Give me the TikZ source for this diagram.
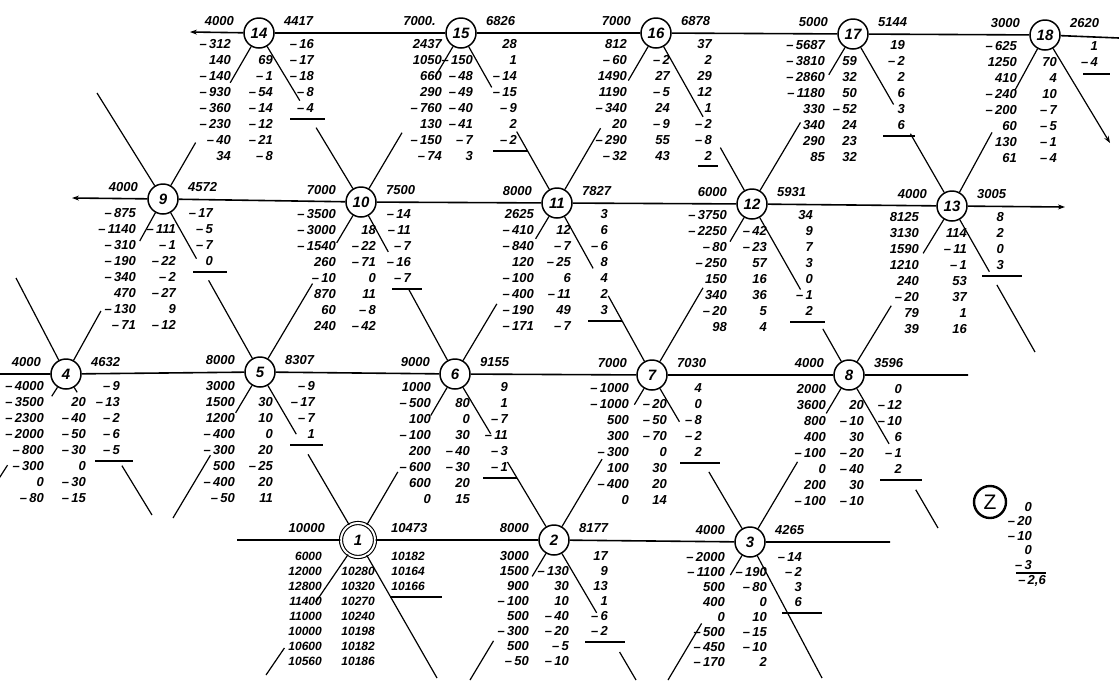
\documentclass[tikz,border=0pt]{standalone}
\usepackage{fontspec}
\setmainfont{Liberation Sans}
\usetikzlibrary{calc,arrows.meta}
\def\fmtnumA#1#2\relax{\ifx-#1\textendash\,#2\else#1#2\fi}
\newcommand\fmtnum[1]{\expandafter\fmtnumA#1\relax}
\newcommand\numcol[6]{%
  \foreach \v [count=\i] in {#6}{%
    \node[#5, anchor=base east] (#1-\i) at (#2,{#3+(\i-1)*#4}) {\fmtnum{\v}};
  }%
}
\newcommand\stn[7]{%
  \node[stat] (#1) at (#2,#3) {#4};
  \node[num, anchor=base east] (#1-ll) at ({#2-#7},{#3-8}) {#5};
  \node[num, anchor=base west] (#1-rl) at ({#2+#7},{#3-8}) {#6};
}
\newcommand\dseg[4]{%
  \draw[diag] (#1) -- ($(#1)!#3!(#2)$);
  \draw[diag] ($(#1)!#4!(#2)$) -- (#2);
}
\begin{document}
\begin{tikzpicture}[x=1pt,y=-1pt,
  num/.style={font=\fontsize{13}{15}\selectfont\bfseries\itshape, inner sep=0pt},
  numf/.style={font=\fontsize{12}{14}\selectfont\bfseries\itshape, inner sep=0pt},
  stat/.style={circle, draw, line width=1.5pt, minimum size=30pt, inner sep=0pt, fill=white,
    font=\fontsize{15}{18}\selectfont\bfseries\itshape},
  statone/.style={stat, double, double distance=2pt, line width=1.1pt, minimum size=34pt},
  zstat/.style={circle, draw, line width=2.4pt, minimum size=32pt, inner sep=0pt,
    font=\fontsize{21}{24}\selectfont},
  rowline/.style={line width=1.6pt},
  diag/.style={line width=1.2pt},
  uline/.style={line width=1.2pt},
  tip/.style={-{Stealth[length=7pt,width=5pt]}},
]
\fill[white] (0,0) rectangle (1119,689);
\useasboundingbox (0,0) rectangle (1119,689);

% ---------- row 1 ----------
\stn{n14}{259}{33}{14}{4000}{4417}{25}
\numcol{n14L}{231}{48}{16}{num}{-312,140,-140,-930,-360,-230,-40,34}
\numcol{n14M}{273}{64}{16}{num}{69,-1,-54,-14,-12,-21,-8}
\numcol{n14R}{314}{48}{16}{num}{-16,-17,-18,-8,-4}
\draw[uline] (290,119) -- (325,119);

\stn{n15}{461}{33}{15}{7000.}{6826}{25}
\numcol{n15L}{442}{48}{16}{num}{2437,1050,660,290,-760,130,-150,-74}
\numcol{n15M}{473}{64}{16}{num}{-150,-48,-49,-40,-41,-7,3}
\numcol{n15R}{517}{48}{16}{num}{28,1,-14,-15,-9,2,-2}
\draw[uline] (493,151) -- (528,151);

\stn{n16}{656}{33}{16}{7000}{6878}{25}
\numcol{n16L}{627}{48}{16}{num}{812,-60,1490,1190,-340,20,-290,-32}
\numcol{n16M}{670}{64}{16}{num}{-2,27,-5,24,-9,55,43}
\numcol{n16R}{712}{48}{16}{num}{37,2,29,12,1,-2,-8,2}
\draw[uline] (698,166) -- (718,166);

\stn{n17}{853}{34}{17}{5000}{5144}{25}
\numcol{n17L}{825}{49}{16}{num}{-5687,-3810,-2860,-1180,330,340,290,85}
\numcol{n17M}{857}{65}{16}{num}{59,32,50,-52,24,23,32}
\numcol{n17R}{905}{49}{16}{num}{19,-2,2,6,3,6}
\draw[uline] (883,136) -- (915,136);

\stn{n18}{1045}{35}{18}{3000}{2620}{25}
\numcol{n18L}{1017}{50}{16}{num}{-625,1250,410,-240,-200,60,130,61}
\numcol{n18M}{1057}{66}{16}{num}{70,4,10,-7,-5,-1,-4}
\numcol{n18R}{1098}{50}{16}{num}{1,-4}
\draw[uline] (1083,74) -- (1110,74);

% ---------- row 2 ----------
\stn{n9}{163}{199}{9}{4000}{4572}{25}
\numcol{n9L}{136}{217}{16}{num}{-875,-1140,-310,-190,-340,470,-130,-71}
\numcol{n9M}{176}{233}{16}{num}{-111,-1,-22,-2,-27,9,-12}
\numcol{n9R}{213}{217}{16}{num}{-17,-5,-7,0}
\draw[uline] (193,272) -- (227,272);

\stn{n10}{361}{202}{10}{7000}{7500}{25}
\numcol{n10L}{336}{218}{16}{num}{-3500,-3000,-1540,260,-10,870,60,240}
\numcol{n10M}{376}{234}{16}{num}{18,-22,-71,0,11,-8,-42}
\numcol{n10R}{411}{218}{16}{num}{-14,-11,-7,-16,-7}
\draw[uline] (392,289) -- (422,289);

\stn{n11}{557}{203}{11}{8000}{7827}{25}
\numcol{n11L}{534}{218}{16}{num}{2625,-410,-840,120,-100,-400,-190,-171}
\numcol{n11M}{571}{234}{16}{num}{12,-7,-25,6,-11,49,-7}
\numcol{n11R}{608}{218}{16}{num}{3,6,-6,8,4,2,3}
\draw[uline] (588,321) -- (622,321);

\stn{n12}{752}{204}{12}{6000}{5931}{25}
\numcol{n12L}{727}{219}{16}{num}{-3750,-2250,-80,-250,150,340,-20,98}
\numcol{n12M}{767}{235}{16}{num}{-42,-23,57,16,36,5,4}
\numcol{n12R}{813}{219}{16}{num}{34,9,7,3,0,-1,2}
\draw[uline] (790,322) -- (825,322);

\stn{n13}{952}{206}{13}{4000}{3005}{25}
\numcol{n13L}{919}{221}{16}{num}{8125,3130,1590,1210,240,-20,79,39}
\numcol{n13M}{967}{237}{16}{num}{114,-11,-1,53,37,1,16}
\numcol{n13R}{1004}{221}{16}{num}{8,2,0,3}
\draw[uline] (982,276) -- (1022,276);

% ---------- row 3 ----------
\stn{n4}{66}{374}{4}{4000}{4632}{25}
\numcol{n4L}{44}{390}{16}{num}{-4000,-3500,-2300,-2000,-800,-300,0,-80}
\numcol{n4M}{86}{406}{16}{num}{20,-40,-50,-30,0,-30,-15}
\numcol{n4R}{120}{390}{16}{num}{-9,-13,-2,-6,-5}
\draw[uline] (95,461) -- (133,461);

\stn{n5}{260}{372}{5}{8000}{8307}{25}
\numcol{n5L}{235}{390}{16}{num}{3000,1500,1200,-400,-300,500,-400,-50}
\numcol{n5M}{273}{406}{16}{num}{30,10,0,20,-25,20,11}
\numcol{n5R}{315}{390}{16}{num}{-9,-17,-7,1}
\draw[uline] (290,445) -- (323,445);

\stn{n6}{455}{374}{6}{9000}{9155}{25}
\numcol{n6L}{431}{391}{16}{num}{1000,-500,100,-100,200,-600,600,0}
\numcol{n6M}{470}{407}{16}{num}{80,0,30,-40,-30,20,15}
\numcol{n6R}{508}{391}{16}{num}{9,1,-7,-11,-3,-1}
\draw[uline] (483,478) -- (517,478);

\stn{n7}{652}{375}{7}{7000}{7030}{25}
\numcol{n7L}{629}{392}{16}{num}{-1000,-1000,500,300,-300,100,-400,0}
\numcol{n7M}{667}{408}{16}{num}{-20,-50,-70,0,30,20,14}
\numcol{n7R}{702}{392}{16}{num}{4,0,-8,-2,2}
\draw[uline] (680,463) -- (720,463);

\stn{n8}{849}{375}{8}{4000}{3596}{25}
\numcol{n8L}{826}{393}{16}{num}{2000,3600,800,400,-100,0,200,-100}
\numcol{n8M}{864}{409}{16}{num}{20,-10,30,-20,-40,30,-10}
\numcol{n8R}{902}{393}{16}{num}{0,-12,-10,6,-1,2}
\draw[uline] (880,480) -- (922,480);

% ---------- row 4 ----------
\node[statone] (n1) at (358,540) {1};
\node[num, anchor=base east] (n1-ll) at (325,532) {10000};
\node[num, anchor=base west] (n1-rl) at (391,532) {10473};
\numcol{n1L}{322}{560}{15}{numf}{6000,12000,12800,11400,11000,10000,10600,10560}
\numcol{n1M}{375}{575}{15}{numf}{10280,10320,10270,10240,10198,10182,10186}
\numcol{n1R}{425}{560}{15}{numf}{10182,10164,10166}
\draw[uline] (390,597) -- (442,597);

\stn{n2}{554}{540}{2}{8000}{8177}{25}
\numcol{n2L}{529}{560}{15}{num}{3000,1500,900,-100,500,-300,500,-50}
\numcol{n2M}{569}{575}{15}{num}{-130,30,10,-40,-20,-5,-10}
\numcol{n2R}{608}{560}{15}{num}{17,9,13,1,-6,-2}
\draw[uline] (585,642) -- (625,642);

\stn{n3}{750}{542}{3}{4000}{4265}{25}
\numcol{n3L}{725}{561}{15}{num}{-2000,-1100,500,400,0,-500,-450,-170}
\numcol{n3M}{767}{576}{15}{num}{-190,-80,0,10,-15,-10,2}
\numcol{n3R}{802}{561}{15}{num}{-14,-2,3,6}
\draw[uline] (782,613) -- (822,613);

% ---------- Z ----------
\node[zstat] (z) at (990,502) {Z};
\numcol{zc}{1032}{511}{14.6}{num}{0,-20,-10,0,-3}
\node[num, anchor=base east] (zc-6) at (1046,584) {\fmtnum{-2,6}};
\draw[uline] (1016,573) -- (1046,573);

% ---------- free ends ----------
\coordinate (cL1) at (190,32);   \coordinate (cR1) at (1119,38);
\coordinate (cL2) at (72,198);   \coordinate (cR2) at (1065,207);
\coordinate (cL3) at (0,374);    \coordinate (cR3) at (968,375);
\coordinate (cL4) at (237,540);  \coordinate (cR4) at (890,542);
\coordinate (c9ul) at (97,93);   \coordinate (c4ul) at (16,278);
\coordinate (c18dr) at (1110,143); \coordinate (c13dr) at (1035,352);
\coordinate (c4dr) at (152,515); \coordinate (c4dl) at (-2,480);
\coordinate (c5dl) at (173,518); \coordinate (c8dr) at (938,528);
\coordinate (c1dl) at (266,675); \coordinate (c1dr) at (437,678);
\coordinate (c2dl) at (470,680); \coordinate (c2dr) at (636,680);
\coordinate (c3dl) at (668,680); \coordinate (c3dr) at (822,678);

% ---------- row lines ----------
\draw[rowline,tip] (n14) -- (cL1);
\draw[rowline] (n14) -- (n15) -- (n16) -- (n17) -- (n18) -- (cR1);
\draw[rowline,tip] (n9) -- (cL2);
\draw[rowline] (n9) -- (n10) -- (n11) -- (n12) -- (n13);
\draw[rowline,tip] (n13) -- (cR2);
\draw[rowline] (cL3) -- (n4) -- (n5) -- (n6) -- (n7) -- (n8) -- (cR3);
\draw[rowline] (cL4) -- (n1) -- (n2) -- (n3) -- (cR4);

% ---------- diagonals ----------
\dseg{n14}{n9}{0.30}{0.66}
\dseg{n14}{n10}{0.40}{0.56}
\dseg{n15}{n10}{0.26}{0.59}
\dseg{n15}{n11}{0.32}{0.58}
\dseg{n16}{n11}{0.28}{0.56}
\dseg{n16}{n12}{0.49}{0.67}
\dseg{n17}{n12}{0.24}{0.52}
\dseg{n17}{n13}{0.41}{0.58}
\dseg{n18}{n13}{0.32}{0.57}
\draw[diag,tip] (n18) -- (c18dr);
\draw[diag] (c9ul) -- (n9);
\dseg{n9}{n4}{0.24}{0.64}
\draw[diag] (c4ul) -- (n4);
\dseg{n9}{n5}{0.345}{0.47}
\dseg{n10}{n5}{0.24}{0.48}
\dseg{n10}{n6}{0.29}{0.51}
\dseg{n11}{n6}{0.21}{0.59}
\dseg{n11}{n7}{0.38}{0.54}
\dseg{n12}{n7}{0.22}{0.49}
\dseg{n12}{n8}{0.50}{0.73}
\dseg{n13}{n8}{0.28}{0.59}
\dseg{n13}{c13dr}{0.45}{0.54}
\dseg{n4}{c4dr}{0.13}{0.65}
\dseg{n4}{c4dl}{0.21}{0.86}
\dseg{n5}{c5dl}{0.28}{0.57}
\dseg{n5}{n1}{0.37}{0.49}
\dseg{n6}{n1}{0.25}{0.59}
\dseg{n6}{n2}{0.36}{0.53}
\dseg{n7}{n2}{0.18}{0.51}
\dseg{n7}{n3}{0.28}{0.58}
\dseg{n8}{n3}{0.23}{0.52}
\dseg{n8}{c8dr}{0.45}{0.75}
\dseg{n1}{c1dl}{0.46}{0.80}
\draw[diag] (n1) -- (c1dr);
\dseg{n2}{c2dl}{0.26}{0.72}
\dseg{n2}{c2dr}{0.52}{0.80}
\dseg{n3}{c3dl}{0.24}{0.59}
\draw[diag] (n3) -- (c3dr);
\end{tikzpicture}
\end{document}
